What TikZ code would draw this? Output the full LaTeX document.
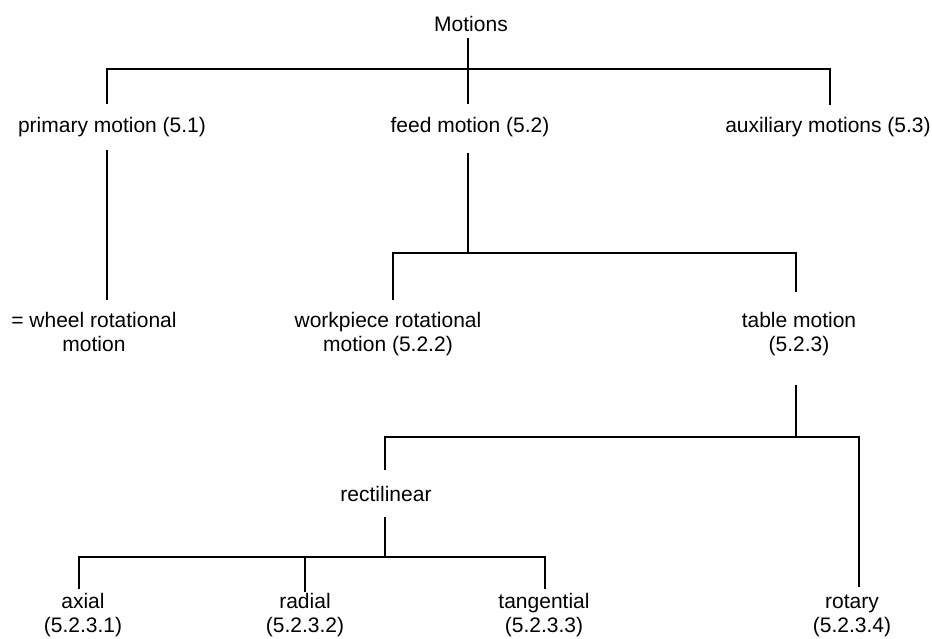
\documentclass[tikz,border=0pt]{standalone}
\usepackage{fontspec}
\setmainfont{Liberation Sans}
\begin{document}
\begin{tikzpicture}[x=1pt,y=-1pt,
  lbl/.style={font=\fontsize{21}{24}\selectfont, inner sep=0pt, align=center, anchor=base},
  conn/.style={line width=1.3pt, line cap=butt, line join=miter}]
\useasboundingbox (0,0) rectangle (932,638);
% labels (anchor base = baseline of last line)
\node[lbl] (motions) at (471,31) {Motions};
\node[lbl] (primary) at (112,132) {primary motion (5.1)};
\node[lbl] (feed) at (470,132) {feed motion (5.2)};
\node[lbl] (aux) at (828,132) {auxiliary motions (5.3)};
\node[lbl] (wheel) at (94,351) {= wheel rotational\\motion};
\node[lbl] (work) at (388,351) {workpiece rotational\\motion (5.2.2)};
\node[lbl] (table) at (799,351) {table motion\\(5.2.3)};
\node[lbl] (rect) at (386,501) {rectilinear};
\node[lbl] (axial) at (83,632) {axial\\(5.2.3.1)};
\node[lbl] (radial) at (305,632) {radial\\(5.2.3.2)};
\node[lbl] (tang) at (544,632) {tangential\\(5.2.3.3)};
\node[lbl] (rotary) at (852,632) {rotary\\(5.2.3.4)};
% connector end points
\coordinate (motions-b) at (468,38);
\coordinate (primary-t) at (107,104);
\coordinate (feed-t) at (468,104);
\coordinate (aux-t) at (830,105);
\coordinate (primary-b) at (107,150);
\coordinate (wheel-t) at (107,300);
\coordinate (feed-b) at (468,153);
\coordinate (work-t) at (393,300);
\coordinate (table-t) at (796,292);
\coordinate (table-b) at (796,385);
\coordinate (rect-t) at (385,470);
\coordinate (rotary-t) at (859,587);
\coordinate (rect-b) at (385,517);
\coordinate (axial-t) at (79,589);
\coordinate (radial-t) at (305,592);
\coordinate (tang-t) at (545,589);
% connectors
\draw[conn] (motions-b) -- (feed-t);
\draw[conn] (primary-t) |- (feed-t |- 0,69) -| (aux-t);
\draw[conn] (primary-b) -- (wheel-t);
\draw[conn] (feed-b) -- (feed-b |- 0,253);
\draw[conn] (work-t) |- (feed-b |- 0,253) -| (table-t);
\draw[conn] (table-b) -- (table-b |- 0,437);
\draw[conn] (rect-t) |- (table-b |- 0,437) -| (rotary-t);
\draw[conn] (rect-b) -- (rect-b |- 0,557);
\draw[conn] (axial-t) |- (rect-b |- 0,557) -| (tang-t);
\draw[conn] (radial-t) -- (radial-t |- 0,557);
\end{tikzpicture}
\end{document}
